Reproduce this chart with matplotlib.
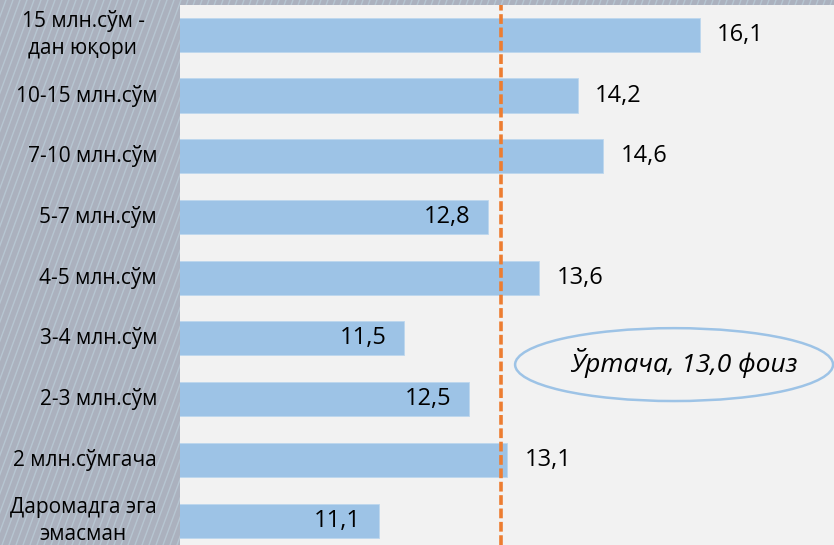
import numpy as np
import matplotlib.pyplot as plt
import matplotlib.transforms as mtransforms
from matplotlib.lines import Line2D
from matplotlib.patches import Ellipse

plt.rcParams['font.family'] = ['Open Sans', 'DejaVu Sans']

# ==========================================
# DATA
# ==========================================

categories = [
    "15 млн.сўм -\nдан юқори",
    "10-15 млн.сўм",
    "7-10 млн.сўм",
    "5-7 млн.сўм",
    "4-5 млн.сўм",
    "3-4 млн.сўм",
    "2-3 млн.сўм",
    "2 млн.сўмгача",
    "Даромадга эга\nэмасман",
]
values = [16.1, 14.2, 14.6, 12.8, 13.6, 11.5, 12.5, 13.1, 11.1]
average = 13.0
average_label = "Ўртача, 13,0 фоиз"

# ==========================================
# FIGURE
# ==========================================

fig = plt.figure(figsize=(8.34, 5.45), dpi=100)
fig.patch.set_facecolor("#abb1be")

# diagonal stripes of the slide background
for x0 in np.arange(-250, 840, 7):
    fig.add_artist(Line2D(
        [x0 / 834, (x0 + 200) / 834], [0, 1],
        color="#bfd4df", lw=1.0, alpha=0.6, zorder=-1
    ))

ax = fig.add_axes([179.5 / 834, 0, 1 - 179.5 / 834, 540 / 545])
ax.set_facecolor("#f2f2f2")

y = np.arange(len(categories))

ax.barh(
    y,
    values,
    height=0.56,
    color="#9dc3e6",
    edgecolor="#bdd7ee",
    linewidth=0.6,
    zorder=2
)

ax.axvline(
    average,
    color="#ed7d31",
    lw=2.6,
    dashes=(2.7, 1.0),
    zorder=3
)

for yi, v in zip(y, values):
    txt = f"{v:.1f}".replace(".", ",")
    if v < average:
        ax.annotate(txt, (v, yi), xytext=(-12.5, 0), textcoords="offset points",
                    ha="right", va="center", fontsize=17, color="black", zorder=4)
    else:
        ax.annotate(txt, (v, yi), xytext=(12.5, 0), textcoords="offset points",
                    ha="left", va="center", fontsize=17, color="black", zorder=4)

ax.add_patch(Ellipse(
    (15.70, 5.43), 4.95, 1.2,
    facecolor="none", edgecolor="#9dc3e6", lw=1.8, zorder=4, clip_on=False
))
ax.text(15.85, 5.40, average_label, ha="center", va="center",
        fontsize=19, style="italic", zorder=5)

ax.set_xlim(8, 18.19)
ax.set_ylim(8.4, -0.49)

# category labels: single lines right-aligned, wrapped ones centred
ax.set_yticks(y)
ax.set_yticklabels([])
ax.tick_params(axis="y", length=0)
ax.set_xticks([])

lab_tr = mtransforms.blended_transform_factory(fig.transFigure, ax.transData)
for yi, cat in zip(y, categories):
    if "\n" in cat:
        ax.text(83 / 834, yi, cat, transform=lab_tr, ha="center", va="center",
                multialignment="center", linespacing=1.4, fontsize=15, clip_on=False)
    else:
        ax.text(157 / 834, yi, cat, transform=lab_tr, ha="right", va="center",
                fontsize=15, clip_on=False)

for s in ax.spines.values():
    s.set_visible(False)

fig.savefig("out.png", dpi=100, facecolor=fig.get_facecolor())
